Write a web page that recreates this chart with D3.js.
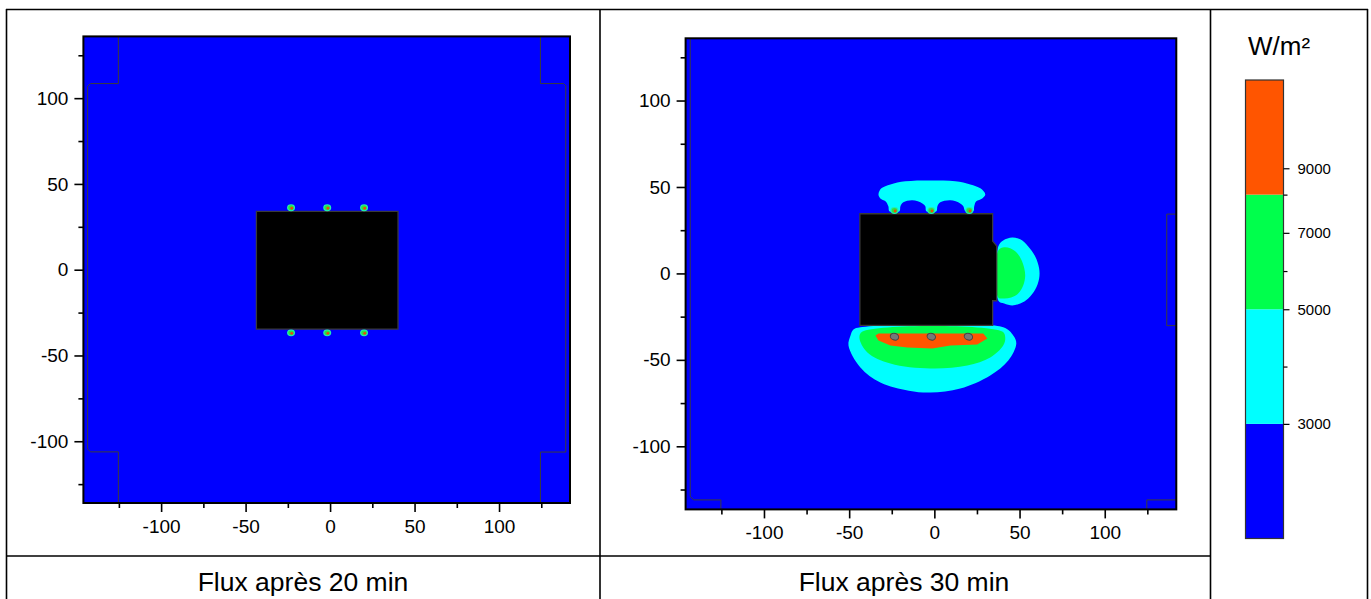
<!DOCTYPE html>
<html><head><meta charset="utf-8">
<script src="https://cdn.jsdelivr.net/npm/d3@7"></script>
<style>body{margin:0;background:#fff}svg{display:block;font-family:"Liberation Sans",Arial,sans-serif}</style>
</head><body><svg id="c" width="1371" height="599"></svg>
<script>
// ---------------- data ----------------
const captions = ["Flux après 20 min", "Flux après 30 min"];
const xMajor = [-100, -50, 0, 50, 100];
const xMinor = [-125, -75, -25, 25, 75, 125];
const yMajor = [-100, -50, 0, 50, 100];
const yMinor = [-125, -75, -25, 25, 75, 125];
const levelBounds = [0, 3000, 5000, 8000, 12350];
const levelColors = ["#0000ff", "#00ffff", "#00ff4c", "#ff5500"];
const barTicks = [3000, 5000, 7000, 9000];
const barMinorTicks = [4000, 6000, 8000];
const unitLabel = "W/m²";

const building20 = [[-43.6,34.0],[40.2,34.0],[40.2,-34.6],[-43.6,-34.6]];
const building30 = [[-43.7,34.5],[34.2,34.5],[34.2,18.7],[36.6,15.8],[36.6,-15.8],[34.2,-15.8],[34.2,-30.0],[-43.7,-30.0]];

const spots20 = [[-23.1,36.1],[-1.7,36.1],[20.1,36.1],[-23.1,-36.8],[-1.7,-36.8],[20.1,-36.8]];
const spots30Top = [[-23.4,36.4],[-1.8,36.4],[20.5,36.4]];
const spots30Bottom = [[-23.4,-36.6],[-1.8,-36.6],[20.0,-36.6]];

// contour regions after 30 min (level index, outline in data units)
const cyanTop30 = [[-32.8,45.7],[-31.1,49.2],[-25.8,51.5],[-17.0,53.3],[-2.3,53.8],[12.3,53.3],[21.1,51.5],[27.0,49.2],[29.9,45.7],[28.1,43.4],[24.6,41.7],[23.4,38.8],[22.9,35.9],[18.2,35.9],[17.0,38.8],[15.2,40.5],[9.4,42.3],[3.5,41.1],[1.8,38.8],[1.2,35.9],[-4.7,35.9],[-5.3,38.8],[-7.0,40.5],[-12.9,42.3],[-18.2,41.1],[-19.9,38.8],[-20.5,35.9],[-26.4,35.9],[-27.0,38.8],[-28.7,41.7],[-31.7,43.4]];
const cyanRight30 = [[37.5,15.6],[40.4,19.1],[45.7,20.8],[50.4,19.7],[55.1,15.6],[59.2,9.8],[61.5,2.9],[61.5,-2.9],[59.2,-9.3],[55.1,-14.5],[50.4,-17.4],[45.7,-18.5],[41.0,-17.4],[37.5,-15.6]];
const greenRight30 = [[37.5,13.3],[41.0,15.1],[44.5,14.5],[48.1,12.2],[51.0,8.1],[52.8,2.9],[53.3,-1.7],[52.2,-6.9],[49.2,-11.6],[45.1,-13.9],[41.0,-14.5],[37.5,-13.9]];
const cyanBottom30 = [[-43.4,-31.2],[40.4,-31.2],[46.3,-35.9],[48.1,-40.5],[43.4,-50.4],[32.8,-59.0],[15.2,-66.6],[-2.3,-68.9],[-15.0,-67.8],[-31.7,-63.1],[-43.4,-54.4],[-50.4,-41.7],[-49.2,-35.9],[-47.5,-32.5]];
const greenBottom30 = [[-42.2,-33.6],[39.9,-33.6],[41.6,-37.0],[40.4,-41.7],[32.8,-48.6],[19.3,-53.3],[-2.3,-55.0],[-25.8,-52.1],[-39.3,-45.7],[-44.0,-37.0]];
const redBottom30 = [[-32.8,-34.7],[28.7,-34.7],[31.1,-37.6],[25.2,-41.1],[9.4,-41.7],[-1.2,-43.4],[-15.8,-42.8],[-25.8,-41.7],[-32.8,-38.8],[-34.6,-35.9]];
const contours30 = [
  {level: 1, pts: cyanTop30, curve: "smooth"},
  {level: 1, pts: cyanRight30, curve: "smooth"},
  {level: 2, pts: greenRight30, curve: "smooth"},
  {level: 1, pts: cyanBottom30, curve: "smooth"},
  {level: 2, pts: greenBottom30, curve: "smooth"},
  {level: 3, pts: redBottom30, curve: "linear"}
];

// domain boundary outlines (thin grey lines)
const boundary20 = [
  [[-125.3,136],[-125.3,108.5],[-141.8,108.5],[-143.5,106.8],[-143.5,-104.5],[-141.8,-106.2],[-125.3,-106.2],[-125.3,-136]],
  [[124.5,136],[124.5,108.5],[138.2,108.5],[139.5,107.2],[139.5,-106.3],[124.5,-106.3],[124.5,-136]]
];
const boundary30 = [
  [[-143.3,136],[-143.3,-129],[-141.2,-131],[-125.3,-131],[-125.3,-136.5]],
  [[124.7,-136.5],[124.7,-131],[142,-131]],
  [[142,34.3],[136.4,34.3],[136.4,-30.2],[142,-30.2]]
];

// ---------------- layout ----------------
const svg = d3.select("#c");
const panels = [
  {xr: [83.4, 570], yr: [503, 36.4], xd: [-146, 142], yd: [-136, 136], labelPad: 8, cap: [303, 591],
   building: building20, boundary: boundary20, contours: [], spots: spots20},
  {xr: [685.6, 1176.3], yr: [509.4, 38.3], xd: [-146, 142], yd: [-136.5, 136], labelPad: 7.5, cap: [904, 591],
   building: building30, boundary: boundary30, contours: contours30, spots: spots30Top, spots2: spots30Bottom}
];

// table frame
const tbl = svg.append("g").attr("stroke", "#000").attr("stroke-width", 1.6).attr("fill", "none");
tbl.append("line").attr("x1", 6).attr("x2", 1368).attr("y1", 9.5).attr("y2", 9.5);
tbl.append("line").attr("x1", 6.5).attr("x2", 6.5).attr("y1", 9).attr("y2", 600);
tbl.append("line").attr("x1", 600).attr("x2", 600).attr("y1", 9).attr("y2", 600);
tbl.append("line").attr("x1", 1210.5).attr("x2", 1210.5).attr("y1", 9).attr("y2", 600);
tbl.append("line").attr("x1", 1367.5).attr("x2", 1367.5).attr("y1", 9).attr("y2", 600);
tbl.append("line").attr("x1", 6).attr("x2", 1211).attr("y1", 556).attr("y2", 556);

panels.forEach((p, i) => {
  const x = d3.scaleLinear().domain(p.xd).range(p.xr);
  const y = d3.scaleLinear().domain(p.yd).range(p.yr);
  const g = svg.append("g");
  const clipId = "clip" + i;
  g.append("clipPath").attr("id", clipId).append("rect")
    .attr("x", p.xr[0]).attr("y", p.yr[1]).attr("width", p.xr[1] - p.xr[0]).attr("height", p.yr[0] - p.yr[1]);
  const plot = g.append("g").attr("clip-path", `url(#${clipId})`);
  plot.append("rect").attr("x", x(p.xd[0])).attr("y", y(p.yd[1]))
    .attr("width", x(p.xd[1]) - x(p.xd[0])).attr("height", y(p.yd[0]) - y(p.yd[1]))
    .attr("fill", levelColors[0]);
  const lineLin = d3.line().x(d => x(d[0])).y(d => y(d[1]));
  const closedLin = d3.line().x(d => x(d[0])).y(d => y(d[1])).curve(d3.curveLinearClosed);
  const closedSmooth = d3.line().x(d => x(d[0])).y(d => y(d[1])).curve(d3.curveCatmullRomClosed.alpha(0.5));
  p.contours.forEach(c => {
    plot.append("path").attr("d", (c.curve === "smooth" ? closedSmooth : closedLin)(c.pts))
      .attr("fill", levelColors[c.level]);
  });
  p.boundary.forEach(b => {
    plot.append("path").attr("d", lineLin(b)).attr("fill", "none").attr("stroke", "#3c3c3c").attr("stroke-width", 1);
  });
  plot.append("path").attr("d", closedLin(p.building)).attr("fill", "#000").attr("stroke", "#3a3a3a").attr("stroke-width", 1.3);
  p.spots.forEach(s => {
    const sg = plot.append("g").attr("transform", `translate(${x(s[0])},${y(s[1])})`);
    sg.append("ellipse").attr("rx", 4).attr("ry", 3.4).attr("fill", "#20f0b0");
    sg.append("ellipse").attr("rx", 2.8).attr("ry", 2.4).attr("fill", "#30e040");
    sg.append("circle").attr("cx", 0.7).attr("cy", 0.5).attr("r", 1.4).attr("fill", "#e84a10");
  });
  if (p.spots2) {
    p.spots2.forEach(s => {
      plot.append("ellipse").attr("cx", x(s[0])).attr("cy", y(s[1])).attr("rx", 4.3).attr("ry", 3.3)
        .attr("transform", `rotate(20 ${x(s[0])} ${y(s[1])})`)
        .attr("fill", "#787878").attr("stroke", "#444").attr("stroke-width", 1);
    });
  }
  g.append("rect").attr("x", p.xr[0]).attr("y", p.yr[1]).attr("width", p.xr[1] - p.xr[0]).attr("height", p.yr[0] - p.yr[1])
    .attr("fill", "none").attr("stroke", "#000").attr("stroke-width", 2);
  const fmt = d => String(d);
  const ax = g.append("g").attr("transform", `translate(0,${p.yr[0]})`)
    .call(d3.axisBottom(x).tickValues(xMajor).tickSize(9).tickPadding(p.labelPad).tickFormat(fmt));
  const axm = g.append("g").attr("transform", `translate(0,${p.yr[0]})`)
    .call(d3.axisBottom(x).tickValues(xMinor).tickSize(5).tickFormat(""));
  const ay = g.append("g").attr("transform", `translate(${p.xr[0]},0)`)
    .call(d3.axisLeft(y).tickValues(yMajor).tickSize(9).tickPadding(6).tickFormat(fmt));
  const aym = g.append("g").attr("transform", `translate(${p.xr[0]},0)`)
    .call(d3.axisLeft(y).tickValues(yMinor).tickSize(5).tickFormat(""));
  [ax, axm, ay, aym].forEach(a => {
    a.select(".domain").remove();
    a.selectAll("line").attr("stroke", "#000").attr("stroke-width", 1.6);
    a.selectAll("text").attr("font-size", 19).attr("fill", "#000").attr("font-family", '"Liberation Sans", Arial, sans-serif');
  });
  svg.append("text").attr("x", p.cap[0]).attr("y", p.cap[1]).attr("text-anchor", "middle")
    .attr("font-size", 26.5).attr("fill", "#000").text(captions[i]);
});

// ---------------- colour bar ----------------
const barX = 1245.5, barW = 38, barTop = 80, barBot = 538.5;
const bandH = (barBot - barTop) / levelColors.length;
const cScale = d3.scaleLinear().domain(levelBounds).range(levelBounds.map((d, i) => barBot - i * bandH));
const bar = svg.append("g");
levelColors.forEach((c, i) => {
  bar.append("rect").attr("x", barX).attr("width", barW)
    .attr("y", cScale(levelBounds[i + 1])).attr("height", cScale(levelBounds[i]) - cScale(levelBounds[i + 1]))
    .attr("fill", c);
});
bar.append("rect").attr("x", barX).attr("y", barTop).attr("width", barW).attr("height", barBot - barTop)
  .attr("fill", "none").attr("stroke", "#333").attr("stroke-width", 1.2);
const cb = bar.append("g").attr("transform", `translate(${barX + barW},0)`)
  .call(d3.axisRight(cScale).tickValues(barTicks).tickSize(6).tickPadding(8).tickFormat(d => String(d)));
const cbm = bar.append("g").attr("transform", `translate(${barX + barW},0)`)
  .call(d3.axisRight(cScale).tickValues(barMinorTicks).tickSize(4).tickFormat(""));
[cb, cbm].forEach(a => {
  a.select(".domain").remove();
  a.selectAll("line").attr("stroke", "#000").attr("stroke-width", 1.2);
  a.selectAll("text").attr("font-size", 15).attr("fill", "#000").attr("font-family", '"Liberation Sans", Arial, sans-serif');
});
svg.append("text").attr("x", 1279).attr("y", 55).attr("text-anchor", "middle")
  .attr("font-size", 26).attr("fill", "#000").text(unitLabel);
</script>
</body></html>
